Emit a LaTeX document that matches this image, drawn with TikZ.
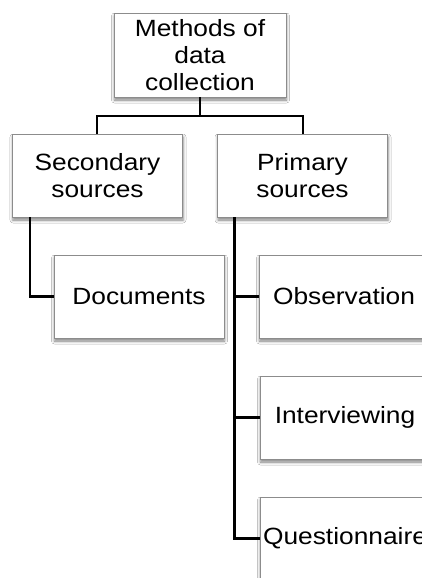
\documentclass[tikz,border=0pt]{standalone}
\usepackage{fontspec}
\setmainfont{Liberation Sans}[FakeStretch=1.12]
\usetikzlibrary{shadows.blur}
\begin{document}
\begin{tikzpicture}[x=1pt,y=-1pt,
  orgbox/.style={draw=black!45, line width=0.9pt, fill=white,
    minimum width=170pt, minimum height=83pt, inner sep=0pt, align=center,
    font=\fontsize{23.5}{26.7}\selectfont,
    blur shadow={shadow xshift=0.5pt, shadow yshift=-3pt,
      shadow blur radius=3pt, shadow opacity=50}},
  link/.style={draw=black, line width=2.3pt}]
\clip (0,0) rectangle (422,578);
\fill[white] (0,0) rectangle (422,578);

% branching points of the connectors
\coordinate (split) at (200,116);
\coordinate (secdrop) at (30,217);
\coordinate (pridrop) at (234.5,217);

% top level and its two branches
\node[orgbox, minimum width=172pt, minimum height=84pt] (top) at (200,55) {Methods of\\data\\collection};
\node[orgbox] (sec) at (97.5,175.5) {Secondary\\sources};
\node[orgbox] (pri) at (302.5,175.5) {Primary\\sources};

\draw[link] (top.south) -- (split);
\draw[link] (split) -| (97,134);
\draw[link] (split) -| (303,134);

% leaves
\node[orgbox] (doc) at (139,296.5) {Documents};
\node[orgbox] (obs) at (344,296.5) {Observation};
\node[orgbox] (int) at (345,417.5) {Interviewing};
\node[orgbox] (que) at (345,538.5) {Questionnaire};

\draw[link] (secdrop) |- (doc.west);
\draw[link] (pridrop) |- (que.west);
\draw[link] (pridrop |- obs.west) -- (obs.west);
\draw[link] (pridrop |- int.west) -- (int.west);
\end{tikzpicture}
\end{document}
